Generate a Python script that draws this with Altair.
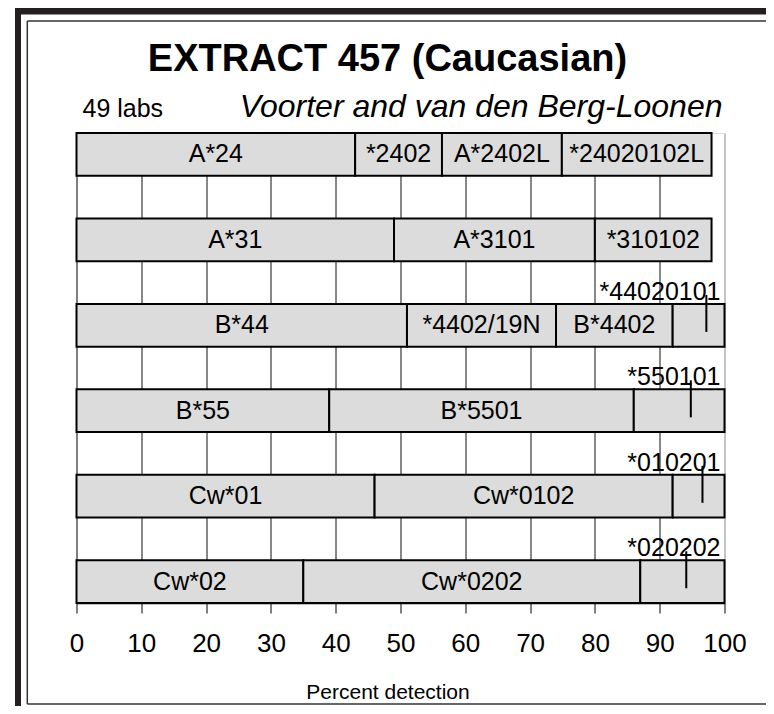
import altair as alt
import pandas as pd

# ---- data ----
row0_labels = ["A*24", "*2402", "A*2402L", "*24020102L"]
row0_ends = [43.0, 56.4, 74.9, 98.0]
row1_labels = ["A*31", "A*3101", "*310102"]
row1_ends = [49.0, 80.0, 98.0]
row2_labels = ["B*44", "*4402/19N", "B*4402", "*44020101"]
row2_ends = [51.0, 74.0, 92.0, 100.0]
row3_labels = ["B*55", "B*5501", "*550101"]
row3_ends = [39.0, 86.0, 100.0]
row4_labels = ["Cw*01", "Cw*0102", "*010201"]
row4_ends = [46.0, 92.0, 100.0]
row5_labels = ["Cw*02", "Cw*0202", "*020202"]
row5_ends = [35.0, 87.0, 100.0]

# rows whose last segment is labelled above the bar, with a marker line
marker_rows = [2, 3, 4, 5]
marker_values = [97.2, 94.8, 96.6, 94.1]

ticks = [0, 10, 20, 30, 40, 50, 60, 70, 80, 90, 100]

title_text = "EXTRACT 457 (Caucasian)"
labs_text = "49 labs"
subtitle_text = "Voorter and van den Berg-Loonen"
x_title = "Percent detection"

FONT = "Liberation Sans, Arial, Helvetica, sans-serif"

all_labels = [row0_labels, row1_labels, row2_labels, row3_labels, row4_labels, row5_labels]
all_ends = [row0_ends, row1_ends, row2_ends, row3_ends, row4_ends, row5_ends]

recs = []
for r, (labs, ends) in enumerate(zip(all_labels, all_ends)):
    start = 0.0
    for i, (lab, end) in enumerate(zip(labs, ends)):
        above = (r in marker_rows) and i == len(labs) - 1
        recs.append({
            "row": r,
            "top": 2 * r,
            "bottom": 2 * r + 1,
            "mid_y": 2 * r + 0.5,
            "start": start,
            "end": end,
            "mid": (start + end) / 2,
            "label": lab,
            "above": above,
        })
        start = end
seg = pd.DataFrame(recs)
inside = seg[~seg["above"]]
outside = seg[seg["above"]]
marks_df = pd.DataFrame({"row": marker_rows, "value": marker_values,
                         "top": [2 * r for r in marker_rows]})

W, H = 648, 470
xscale = alt.Scale(domain=[0, 100], nice=False, zero=True)
yscale = alt.Scale(domain=[0, 11], reverse=True, nice=False, zero=False)

xaxis = alt.Axis(
    values=ticks, title=x_title, grid=True,
    gridColor={"condition": {"test": "datum.value === 100", "value": "#9a9a9a"}, "value": "#111111"},
    gridWidth=1, tickSize=10, tickColor="#000", tickWidth=1,
    domainColor="#000", domainWidth=1.5,
    labelFont=FONT, labelFontSize=26, labelColor="#000", labelPadding=17,
    labelFlush=False, labelOverlap=False,
    titleFont=FONT, titleFontSize=21, titleFontWeight="normal", titleColor="#000",
    titleX=311, titleY=95, titleBaseline="alphabetic", titleAlign="center",
)

bars = alt.Chart(seg).mark_bar(fill="#dcdcdc", stroke="#000", strokeWidth=2).encode(
    x=alt.X("start:Q", scale=xscale, axis=xaxis),
    x2="end:Q",
    y=alt.Y("top:Q", scale=yscale, axis=None),
    y2="bottom:Q",
)

in_text = alt.Chart(inside).mark_text(font=FONT, fontSize=25, color="#000", baseline="middle", align="center").encode(
    x=alt.X("mid:Q", scale=xscale),
    y=alt.Y("mid_y:Q", scale=yscale),
    text="label:N",
)

out_text = alt.Chart(outside).mark_text(font=FONT, fontSize=25, color="#000", baseline="alphabetic",
                                        align="right", dx=-4, dy=-4).encode(
    x=alt.X("end:Q", scale=xscale),
    y=alt.Y("top:Q", scale=yscale),
    text="label:N",
)

marker = alt.Chart(marks_df).mark_rule(color="#000", strokeWidth=2, yOffset=-9, y2Offset=28).encode(
    x=alt.X("value:Q", scale=xscale),
    y=alt.Y("top:Q", scale=yscale),
    y2="top:Q",
)

one = pd.DataFrame({"k": [0]})

title = alt.Chart(one).mark_text(font=FONT, fontSize=38, fontWeight="bold", color="#000",
                                 align="center", baseline="alphabetic").encode(
    x=alt.value(311), y=alt.value(-62), text=alt.value(title_text))
labs = alt.Chart(one).mark_text(font=FONT, fontSize=25, color="#000",
                                align="left", baseline="alphabetic").encode(
    x=alt.value(6), y=alt.value(-16), text=alt.value(labs_text))
sub = alt.Chart(one).mark_text(font=FONT, fontSize=32, fontStyle="italic", color="#000",
                               align="right", baseline="alphabetic").encode(
    x=alt.value(646), y=alt.value(-16), text=alt.value(subtitle_text))

# decorative frame around the figure
frame_left = alt.Chart(one).mark_rule(color="#231f20", strokeWidth=6).encode(
    x=alt.value(-58.5), y=alt.value(-125), y2=alt.value(580))
frame_top = alt.Chart(one).mark_rule(color="#231f20", strokeWidth=6.5).encode(
    x=alt.value(-61.5), x2=alt.value(700), y=alt.value(-121.7))
inner_left = alt.Chart(one).mark_rule(color="#333", strokeWidth=1.5).encode(
    x=alt.value(-49.2), y=alt.value(-112), y2=alt.value(571))
inner_top = alt.Chart(one).mark_rule(color="#333", strokeWidth=1.5).encode(
    x=alt.value(-49.2), x2=alt.value(700), y=alt.value(-112))
inner_bottom = alt.Chart(one).mark_rule(color="#333", strokeWidth=1.5).encode(
    x=alt.value(-49.2), x2=alt.value(700), y=alt.value(571))

chart = alt.layer(
    bars, in_text, out_text, marker, title, labs, sub,
    frame_left, frame_top, inner_left, inner_top, inner_bottom,
).properties(
    width=W, height=H,
    padding={"left": 68.5, "top": 125, "right": 41.5, "bottom": 103},
    autosize=alt.AutoSizeParams(type="none"),
).configure_view(stroke=None).configure(background="white")

chart.save("out.html", embed_options={"renderer": "svg", "actions": False})
